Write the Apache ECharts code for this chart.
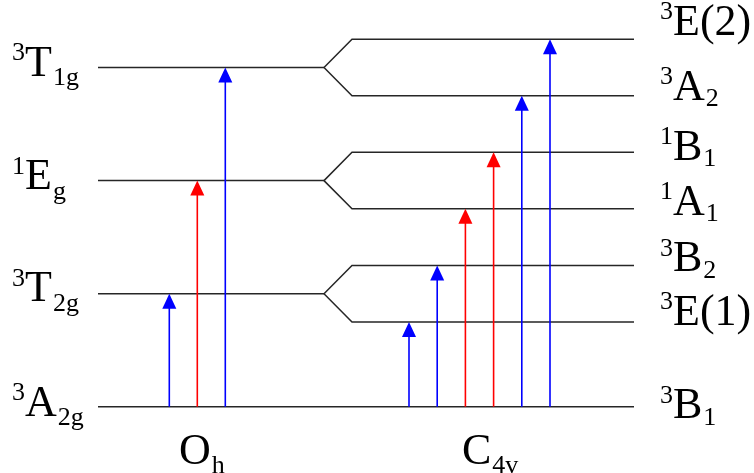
<!DOCTYPE html>
<html>
<head>
<meta charset="utf-8">
<script src="https://cdn.jsdelivr.net/npm/echarts@6/dist/echarts.min.js"></script>
<style>
  html, body { margin: 0; padding: 0; background: #ffffff; }
  #chart { width: 754px; height: 473px; }
</style>
</head>
<body>
<div id="chart"></div>
<script>
// ---- Term energies (arbitrary units, ground state = 0) ----
// Octahedral (Oh) terms: [superscript multiplicity, symbol, subscript]
const ohTerms = [['3', 'A', '2g'], ['3', 'T', '2g'], ['1', 'E', 'g'], ['3', 'T', '1g']];
const ohEnergies = [0, 2, 4, 6];

// Tetragonal (C4v) terms after the splitting
const c4vTerms = [['3', 'B', '1'], ['3', 'E(1)', ''], ['3', 'B', '2'], ['1', 'A', '1'],
                  ['1', 'B', '1'], ['3', 'A', '2'], ['3', 'E(2)', '']];
const c4vEnergies = [0, 1.5, 2.5, 3.5, 4.5, 5.5, 6.5];
// index of the Oh term each C4v term comes from
const c4vParent = [0, 1, 1, 2, 2, 3, 3];

// Transitions from the ground state: target term index and spin character
const ohTargets = [1, 2, 3];
const ohSpinAllowed = [true, false, true];
const c4vTargets = [1, 2, 3, 4, 5, 6];
const c4vSpinAllowed = [true, true, false, false, true, true];

// Point-group captions: [symbol, subscript]
const groupNames = [['O', 'h'], ['C', '4v']];

// ---- Layout (pixels on the x axis, which spans the full width) ----
const X = {
  ohStart: 98, splitStart: 324, splitEnd: 352, end: 634,
  ohArrow0: 169.3, ohArrowStep: 28,
  c4vArrow0: 409, c4vArrowStep: 28.2,
  ohLabel: 12, c4vLabel: 660,
  ohCaption: 179, c4vCaption: 462
};
const ohLabelDrop = [12.5, 11, 12, 11.3];
const c4vLabelDrop = [15, 6.5, 9.3, 9.3, 10.6, 7.5, -1];
const captionBaseline = 467;
const MAIN_SIZE = 44, SMALL_SIZE = 26;
const SUP_RISE = 17, SUB_DROP_LEFT = 8, SUB_DROP_RIGHT = 5;
const FONT = 'Liberation Serif';
const LEVEL_COLOR = '#262626';
const BLUE = '#0000ff', RED = '#ff0000';
const HEAD_W = 14, HEAD_LEN = 15;

const measureCtx = document.createElement('canvas').getContext('2d');
function textWidth(str, size) {
  measureCtx.font = size + "px '" + FONT + "'";
  return measureCtx.measureText(str).width;
}
// text element whose alphabetic baseline sits at y
function baselineText(str, x, y, size) {
  return {
    type: 'text',
    style: {
      text: str, x: x, y: y - 0.3375 * size,
      fontFamily: FONT, fontSize: size, lineHeight: size,
      fill: '#000000', align: 'left', verticalAlign: 'middle'
    }
  };
}
// superscript + symbol + subscript
function termLabel(parts, x, baseline, subDrop) {
  const [sup, main, sub] = parts;
  const children = [];
  let cx = x;
  if (sup) {
    children.push(baselineText(sup, cx, baseline - SUP_RISE, SMALL_SIZE));
    cx += textWidth(sup, SMALL_SIZE);
  }
  children.push(baselineText(main, cx, baseline, MAIN_SIZE));
  cx += textWidth(main, MAIN_SIZE) + 1;
  if (sub) children.push(baselineText(sub, cx, baseline + subDrop, SMALL_SIZE));
  return { type: 'group', children: children };
}

const lineStyle = { stroke: LEVEL_COLOR, lineWidth: 1.5, fill: null };

const chart = echarts.init(document.getElementById('chart'), null, { renderer: 'canvas' });
chart.setOption({
  animation: false,
  backgroundColor: '#ffffff',
  grid: { left: 0, right: 0, top: 39.3, bottom: 66.3 },
  xAxis: { type: 'value', min: 0, max: 754, show: false },
  yAxis: { type: 'value', min: 0, max: 6.5, show: false },
  series: [
    {
      // Oh levels; the ground level runs across both columns
      type: 'custom', name: 'Oh levels', clip: false,
      data: ohEnergies.map((e, i) => [i, e]),
      renderItem(params, api) {
        const e = api.value(1);
        const xEnd = params.dataIndex === 0 ? X.end : X.splitStart;
        const a = api.coord([X.ohStart, e]);
        const b = api.coord([xEnd, e]);
        return { type: 'line', shape: { x1: a[0], y1: a[1], x2: b[0], y2: b[1] }, style: lineStyle };
      }
    },
    {
      // C4v levels with the connectors from their parent Oh term
      type: 'custom', name: 'C4v levels', clip: false,
      data: c4vEnergies.map((e, i) => [i, e, ohEnergies[c4vParent[i]]]).slice(1),
      renderItem(params, api) {
        const e = api.value(1), parent = api.value(2);
        const pts = [
          api.coord([X.splitStart, parent]),
          api.coord([X.splitEnd, e]),
          api.coord([X.end, e])
        ];
        return { type: 'polyline', shape: { points: pts }, style: lineStyle };
      }
    },
    {
      // absorption arrows from the ground state
      type: 'custom', name: 'transitions', clip: false,
      data: ohTargets.map((t, k) => [X.ohArrow0 + X.ohArrowStep * k, ohEnergies[t], ohSpinAllowed[k] ? 1 : 0])
        .concat(c4vTargets.map((t, k) => [X.c4vArrow0 + X.c4vArrowStep * k, c4vEnergies[t], c4vSpinAllowed[k] ? 1 : 0])),
      renderItem(params, api) {
        const x = api.value(0), e = api.value(1);
        const color = api.value(2) === 1 ? BLUE : RED;
        const tip = api.coord([x, e]);
        const base = api.coord([x, 0]);
        return {
          type: 'group',
          children: [
            { type: 'line', shape: { x1: base[0], y1: base[1], x2: tip[0], y2: tip[1] + HEAD_LEN - 1 },
              style: { stroke: color, lineWidth: 1.6 } },
            { type: 'polygon',
              shape: { points: [[tip[0], tip[1]], [tip[0] - HEAD_W / 2, tip[1] + HEAD_LEN], [tip[0] + HEAD_W / 2, tip[1] + HEAD_LEN]] },
              style: { fill: color } }
          ]
        };
      }
    },
    {
      // term symbols
      type: 'custom', name: 'terms', clip: false,
      data: ohEnergies.map((e, i) => [0, e, i]).concat(c4vEnergies.map((e, i) => [1, e, i])),
      renderItem(params, api) {
        const side = api.value(0), e = api.value(1), i = api.value(2);
        const y = api.coord([0, e])[1];
        if (side === 0) {
          return termLabel(ohTerms[i], X.ohLabel, y + ohLabelDrop[i], SUB_DROP_LEFT);
        }
        return termLabel(c4vTerms[i], X.c4vLabel, y + c4vLabelDrop[i], SUB_DROP_RIGHT);
      }
    },
    {
      // point-group captions
      type: 'custom', name: 'groups', clip: false,
      data: [[X.ohCaption, 0], [X.c4vCaption, 1]],
      renderItem(params, api) {
        const g = groupNames[params.dataIndex];
        return termLabel(['', g[0], g[1]], api.value(0), captionBaseline, SUB_DROP_LEFT);
      }
    }
  ]
});
</script>
</body>
</html>
